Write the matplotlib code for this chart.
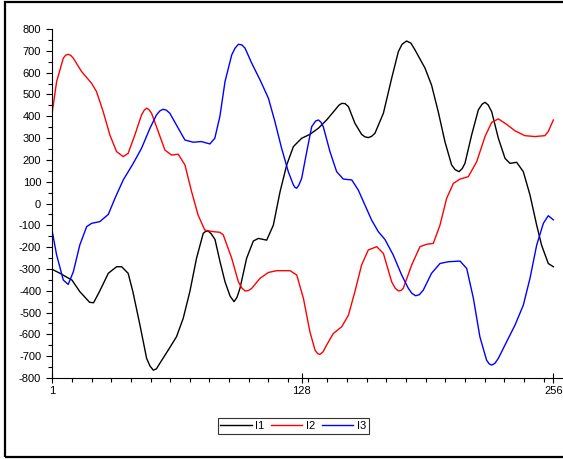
import matplotlib
matplotlib.use('Agg')
import matplotlib.pyplot as plt
from matplotlib.patches import Rectangle

plt.rcParams['font.family'] = ['Liberation Sans', 'DejaVu Sans']
plt.rcParams['axes.unicode_minus'] = False

# (sample, value) pairs
i1 = [(1, -302), (4.9, -320), (8, -336), (11, -351), (15, -404), (20, -453), (22, -455),
      (25, -404), (29.5, -320), (33.7, -290), (36.3, -290), (39.6, -320), (42, -404),
      (45.6, -557), (49, -710), (50.7, -745), (52.4, -764), (54, -758), (55.7, -733),
      (60, -672), (64.2, -611), (67.6, -527), (71, -404), (74.4, -251), (77.8, -137),
      (79, -128), (80.3, -126), (81.8, -138), (83.8, -165), (86.3, -265), (88.9, -359),
      (91.5, -425), (93.5, -450), (95, -430), (96.5, -389), (99.9, -251), (103.3, -172),
      (105.9, -160), (110.1, -168), (113.5, -99), (116.9, 54), (120.3, 177), (123.7, 261),
      (127.9, 299), (132.1, 317), (136.4, 345), (140.6, 383), (144.9, 429), (146.8, 450),
      (148.3, 459), (150, 458), (151.7, 444), (155, 368), (158.4, 317), (160, 306),
      (161.8, 302), (163.5, 308), (165.2, 322), (169.5, 414), (173.7, 574), (177.1, 696),
      (179, 730), (181.3, 745), (183.5, 735), (185.6, 704), (190.7, 620), (194, 543),
      (197.4, 421), (200.8, 284), (204.2, 177), (206, 155), (208, 146), (209.6, 160),
      (211, 184), (214.4, 314), (217.8, 429), (219.7, 455), (221.2, 464), (222.8, 452),
      (224.6, 421), (228, 299), (231.4, 207), (233.9, 184), (237.3, 189), (240.7, 146),
      (244.1, 39), (247.5, -99), (250, -191), (253.4, -275), (256, -290)]

i2 = [(1, 420), (3.2, 559), (6.6, 666), (7.8, 680), (9.1, 684), (10.4, 679), (11.7, 666),
      (15.9, 605), (21, 551), (23.5, 513), (26.9, 421), (30.3, 314), (33.7, 238), (37.1, 215),
      (39.6, 230), (43, 314), (46.4, 406), (47.8, 428), (49, 437), (50.2, 430), (51.5, 414),
      (54.9, 330), (58.3, 245), (61.7, 222), (65.1, 226), (68.5, 177), (71.9, 54), (75.2, -53),
      (78.6, -122), (82.9, -129), (86.3, -132), (88, -144), (92.3, -251), (95.7, -359),
      (97.5, -388), (99.1, -401), (100.8, -399), (102.5, -389), (106.7, -343), (111, -316),
      (115.2, -308), (122, -308), (125.4, -328), (128.8, -435), (132.1, -588), (134.7, -672),
      (136, -688), (137.2, -692), (138.8, -680), (140.6, -649), (144, -596), (148.3, -565),
      (151.7, -512), (155, -404), (158.4, -282), (161.8, -213), (166.1, -198), (169.5, -229),
      (173.7, -359), (175.5, -388), (177.1, -401), (178.4, -399), (179.6, -389), (183.9, -282),
      (188.1, -198), (191.5, -187), (194.9, -183), (198.3, -99), (201.7, 24), (205.1, 92),
      (208.5, 112), (212.7, 123), (217, 192), (221.2, 307), (224.6, 372), (228, 388),
      (232.2, 363), (236.5, 333), (241.5, 311), (246.6, 307), (251.7, 311), (253.4, 330),
      (256, 383)]

i3 = [(1, -129), (3.2, -236), (6.6, -351), (9.1, -371), (11.7, -313), (15, -190), (18.5, -106),
      (21, -91), (25.2, -83), (29.5, -50), (32.9, 24), (37.1, 108), (42.2, 184), (46.4, 253),
      (50.7, 345), (54, 406), (55.8, 425), (57.4, 432), (59, 428), (60.8, 414), (65.1, 345),
      (68.5, 291), (72.7, 281), (76.9, 284), (81.2, 273), (83.7, 299), (86.3, 400), (88.9, 559),
      (92.3, 681), (94, 712), (95.7, 730), (97.5, 727), (99.1, 712), (102.5, 643), (106.7, 567),
      (111, 482), (114.3, 375), (117.7, 253), (121.1, 146), (123.7, 85), (124.5, 74),
      (125.4, 70), (126.5, 85), (127.9, 115), (130.5, 238), (133, 352), (135, 378),
      (136.4, 383), (137.7, 373), (138.9, 352), (142.3, 238), (145.7, 146), (149.1, 112),
      (153.4, 108), (156.7, 62), (160.1, -7), (163.5, -76), (166.9, -129), (170.3, -165),
      (174.5, -236), (178.8, -328), (182.2, -389), (184, -412), (185.9, -423), (187.8, -418),
      (189.8, -397), (194, -320), (198.3, -275), (202.5, -267), (208.5, -264), (211.9, -298),
      (215.3, -435), (218.6, -611), (222, -718), (223.3, -735), (224.6, -741), (226.2, -733),
      (228, -710), (232.2, -634), (236.5, -557), (240.7, -466), (244.1, -343), (247.5, -191),
      (250.9, -91), (253.4, -56), (256, -75)]

x_major = [1, 128, 256]
y_major = list(range(-800, 801, 100))

fig = plt.figure(figsize=(5.63, 4.59), dpi=100)
ax = fig.add_axes([52.3 / 563, 81 / 459, 510.7 / 563, 349 / 459])

for data, col, name in [(i1, 'black', 'I1'), (i2, 'red', 'I2'), (i3, 'blue', 'I3')]:
    x, y = zip(*data)
    ax.plot(x, y, color=col, lw=1.0, label=name, solid_joinstyle='round')

ax.set_xlim(1, 260.9)
ax.set_ylim(-800, 800)
ax.set_xticks(x_major)
ax.set_xticks(list(range(11, 252, 10)), minor=True)
ax.set_yticks(y_major)
ax.set_yticks(list(range(-750, 800, 100)), minor=True)
ax.tick_params(axis='x', which='major', direction='inout', length=7, width=0.8,
               labelsize=8, pad=2)
ax.tick_params(axis='x', which='minor', direction='out', length=3, width=0.8)
ax.tick_params(axis='y', which='major', direction='out', length=4, width=0.8,
               labelsize=8, pad=4)
ax.tick_params(axis='y', which='minor', direction='out', length=3, width=0.8)
ax.spines['top'].set_visible(False)
ax.spines['right'].set_visible(False)
ax.spines['left'].set_linewidth(0.8)
ax.spines['bottom'].set_linewidth(0.8)

leg = fig.legend(loc='center', bbox_to_anchor=(293.5 / 563, 1 - 426 / 459), ncol=3,
                 fontsize=8, frameon=True, fancybox=False, shadow=False,
                 handlelength=2.8, handletextpad=0.35, columnspacing=0.6,
                 borderpad=0.25, borderaxespad=0)
leg.get_frame().set_edgecolor('black')
leg.get_frame().set_linewidth(0.8)

# outer frame, right side runs off the picture
fig.patches.append(Rectangle((5 / 563, 2 / 459), 600 / 563, 455 / 459, transform=fig.transFigure,
                             fill=False, edgecolor='black', lw=1.6, clip_on=False))

fig.savefig('out.png', dpi=100)
